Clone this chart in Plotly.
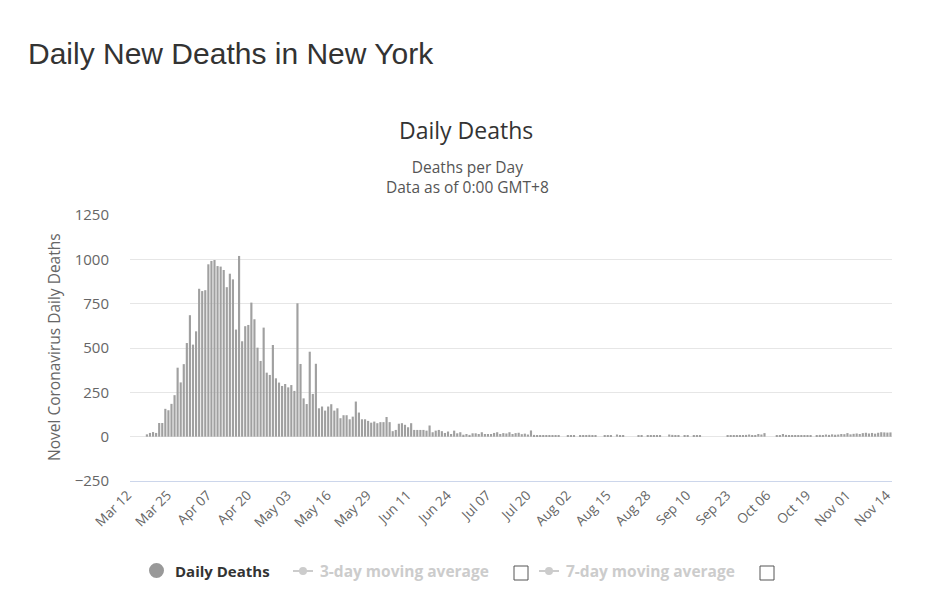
import plotly.graph_objects as go
import pandas as pd

# ---- data ----
dates = pd.date_range("2020-03-12", "2020-11-14", freq="D")
categories = [d.strftime("%b %d") for d in dates]

daily_deaths = [
    None, None, None, None, None, 13, 21, 26, 21,
    77, 77, 157, 149, 185, 234, 389, 306, 409, 528,
    685, 519, 594, 834, 821, 826, 972, 991, 996, 962,
    959, 940, 843, 919, 887, 604, 1019, 538, 623, 630,
    756, 662, 502, 427, 615, 361, 348, 517, 329, 305,
    286, 297, 278, 291, 258, 752, 410, 216, 184, 479,
    241, 411, 160, 170, 147, 170, 183, 147, 160, 104,
    121, 121, 98, 113, 198, 136, 98, 98, 89, 79,
    85, 76, 82, 82, 111, 82, 31, 38, 73, 76,
    67, 53, 76, 38, 38, 38, 38, 34, 63, 25,
    34, 38, 31, 21, 29, 15, 34, 19, 25, 11,
    15, 10, 19, 19, 15, 25, 15, 15, 15, 21,
    25, 15, 20, 18, 25, 15, 20, 22, 14, 17,
    12, 35, 10, 8, 6, 9, 7, 8, 5, 9,
    6, 0, 0, 6, 8, 5, 0, 7, 5, 9,
    10, 6, 8, 0, 0, 6, 7, 5, 0, 12,
    6, 8, 0, 0, 0, 0, 4, 5, 0, 5,
    6, 4, 5, 6, 0, 0, 12, 10, 6, 8,
    0, 5, 4, 0, 5, 6, 4, 0, 0, 0,
    0, 0, 0, 0, 0, 6, 5, 4, 8, 6,
    7, 10, 12, 8, 9, 15, 12, 20, 0, 0,
    0, 6, 8, 15, 10, 7, 6, 9, 8, 7,
    8, 6, 9, 0, 8, 10, 9, 12, 10, 13,
    11, 12, 15, 14, 20, 13, 16, 18, 15, 20,
    22, 18, 21, 17, 22, 25, 24, 23, 24,
]

tick_labels = ["Mar 12", "Mar 25", "Apr 07", "Apr 20", "May 03", "May 16", "May 29",
               "Jun 11", "Jun 24", "Jul 07", "Jul 20", "Aug 02", "Aug 15", "Aug 28",
               "Sep 10", "Sep 23", "Oct 06", "Oct 19", "Nov 01", "Nov 14"]
y_ticks = [-250, 0, 250, 500, 750, 1000, 1250]

# ---- layout geometry (pixels) ----
W, H = 933, 607
L, R, T, B = 130, 892, 215, 481


def px(x):
    return (x - L) / (R - L)


def py(y):
    return (B - y) / (B - T)


FONT = "Open Sans"

fig = go.Figure()
fig.add_trace(go.Bar(
    x=categories, y=daily_deaths,
    marker=dict(color="#a0a0a0", line=dict(width=0)),
    showlegend=False, name="Daily Deaths",
))

fig.update_layout(
    width=W, height=H,
    margin=dict(l=L, r=W - R, t=T, b=H - B),
    paper_bgcolor="white", plot_bgcolor="white",
    bargap=0.3,
    font=dict(family=FONT, color="#666"),
    showlegend=False,
    xaxis=dict(
        type="category", tickmode="array", tickvals=tick_labels, ticktext=tick_labels,
        tickangle=-45, tickfont=dict(size=13.5, color="#666", family=FONT),
        showgrid=False, showline=True, linecolor="#ccd6eb", linewidth=1,
        ticks="", range=[-0.5, len(categories) - 0.5],
        ticklabelshift=-4,
    ),
    yaxis=dict(
        range=[-250, 1250], tickmode="array", tickvals=y_ticks,
        tickfont=dict(size=15, color="#666", family=FONT),
        gridcolor="#e6e6e6", gridwidth=1, zeroline=False, ticks="",
        ticklabelstandoff=20,
    ),
)

ann = []
ann.append(dict(text="Daily New Deaths in New York", x=px(26), y=py(53), xref="paper", yref="paper",
                xanchor="left", yanchor="middle", showarrow=False,
                font=dict(family="Liberation Sans", size=30, color="#333")))
ann.append(dict(text="Daily Deaths", x=px(466), y=py(130), xref="paper", yref="paper",
                xanchor="center", yanchor="middle", showarrow=False,
                font=dict(family=FONT, size=23, color="#333")))
ann.append(dict(text="Deaths per Day<br>Data as of 0:00 GMT+8", x=px(467), y=py(177),
                xref="paper", yref="paper", align="center",
                xanchor="center", yanchor="middle", showarrow=False,
                font=dict(family=FONT, size=15.5, color="#555")))
ann.append(dict(text="Novel Coronavirus Daily Deaths", x=px(54), y=py(347), xref="paper", yref="paper",
                xanchor="center", yanchor="middle", showarrow=False, textangle=-90,
                font=dict(family=FONT, size=15.5, color="#666")))
# legend texts
ann.append(dict(text="<b>Daily Deaths</b>", x=px(173), y=py(571), xref="paper", yref="paper",
                xanchor="left", yanchor="middle", showarrow=False,
                font=dict(family=FONT, size=15, color="#333")))
ann.append(dict(text="<b>3-day moving average</b>", x=px(318), y=py(571), xref="paper", yref="paper",
                xanchor="left", yanchor="middle", showarrow=False,
                font=dict(family=FONT, size=15.5, color="#cccccc")))
ann.append(dict(text="<b>7-day moving average</b>", x=px(564), y=py(571), xref="paper", yref="paper",
                xanchor="left", yanchor="middle", showarrow=False,
                font=dict(family=FONT, size=15.5, color="#cccccc")))

shapes = []
# legend symbols
shapes.append(dict(type="circle", xref="paper", yref="paper",
                   x0=px(149), x1=px(164), y0=py(578), y1=py(563),
                   fillcolor="#999", line=dict(width=0)))
for cx in (303, 549):
    shapes.append(dict(type="line", xref="paper", yref="paper",
                       x0=px(cx - 10), x1=px(cx + 10), y0=py(571), y1=py(571),
                       line=dict(color="#cccccc", width=2)))
    shapes.append(dict(type="circle", xref="paper", yref="paper",
                       x0=px(cx - 4), x1=px(cx + 4), y0=py(575), y1=py(567),
                       fillcolor="#cccccc", line=dict(width=0)))
for bx in (514, 760):
    shapes.append(dict(type="rect", xref="paper", yref="paper",
                       x0=px(bx), x1=px(bx + 14), y0=py(580), y1=py(566),
                       fillcolor="white", line=dict(color="#555", width=1)))

fig.update_layout(annotations=ann, shapes=shapes)
fig.write_html("out.html")
